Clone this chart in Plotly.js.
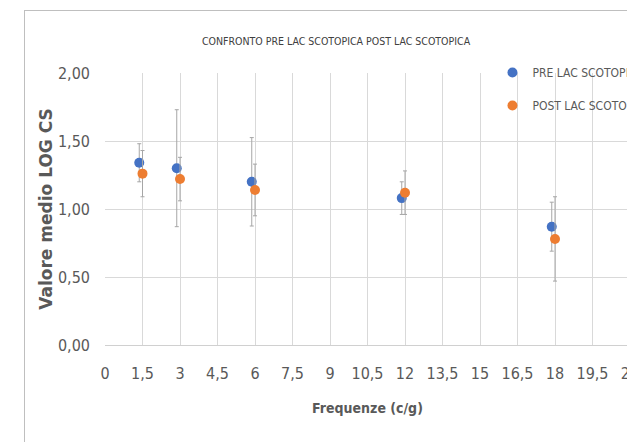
<!DOCTYPE html>
<html>
<head>
<meta charset="utf-8">
<script src="https://cdn.plot.ly/plotly-3.0.1.min.js"></script>
<style>
  html, body { margin: 0; padding: 0; background: #ffffff; overflow: hidden; width: 627px; height: 442px; }
  #frame { position: absolute; left: 24px; top: 10px; width: 720px; height: 440px; border-left: 1px solid #bfbfbf; border-top: 1px solid #bfbfbf; }
  #chart { position: absolute; left: 0; top: 0; width: 720px; height: 432px; }
</style>
</head>
<body>
<div id="frame"><div id="chart"></div></div>
<script>
const chartTitle = "CONFRONTO PRE LAC SCOTOPICA POST LAC SCOTOPICA";
const xTitle = "Frequenze (c/g)";
const yTitle = "Valore medio LOG CS";
const seriesNames = ["PRE LAC SCOTOPICA", "POST LAC SCOTOPICA"];

const preX = [1.37, 2.87, 5.87, 11.87, 17.87];
const preY = [1.34, 1.30, 1.20, 1.08, 0.87];
const preErr = [0.14, 0.43, 0.325, 0.12, 0.18];

const postX = [1.5, 3, 6, 12, 18];
const postY = [1.26, 1.22, 1.14, 1.12, 0.78];
const postErr = [0.17, 0.16, 0.19, 0.16, 0.31];

const xTicks = [0, 1.5, 3, 4.5, 6, 7.5, 9, 10.5, 12, 13.5, 15, 16.5, 18, 19.5, 21];
const yTicks = [0, 0.5, 1, 1.5, 2];

const NARROW = '"DejaVu Sans Condensed", "Liberation Sans", sans-serif';
const WIDE = '"DejaVu Sans", "Liberation Sans", sans-serif';
const TXT = '#595959';

const errStyle = (arr) => ({ type: 'data', array: arr, visible: true, color: '#a6a6a6', thickness: 1, width: 2 });

const traces = [
  { x: preX, y: preY, name: seriesNames[0], type: 'scatter', mode: 'markers',
    marker: { color: '#4472C4', size: 10 }, error_y: errStyle(preErr), legendgroup: 'a' },
  { x: postX, y: postY, name: seriesNames[1], type: 'scatter', mode: 'markers',
    marker: { color: '#ED7D31', size: 10 }, error_y: errStyle(postErr), legendgroup: 'b' }
];

const layout = {
  width: 720, height: 432,
  margin: { l: 80, r: 115, t: 62, b: 98 },
  paper_bgcolor: 'rgba(0,0,0,0)', plot_bgcolor: 'rgba(0,0,0,0)',
  separators: ',.',
  font: { family: NARROW, color: TXT, size: 16 },
  title: { text: chartTitle, font: { family: NARROW, size: 10.5, color: '#404040' },
           x: 311/720, xref: 'container', xanchor: 'center', y: 1 - 30/432, yanchor: 'middle' },
  showlegend: true,
  legend: { x: 0.738, xanchor: 'left', y: 1.055, yanchor: 'top', font: { family: NARROW, size: 12, color: TXT },
            bgcolor: 'rgba(0,0,0,0)', tracegroupgap: 14, traceorder: 'grouped', itemwidth: 30 },
  xaxis: {
    range: [0, 21], tickvals: xTicks, showgrid: true, gridcolor: '#d9d9d9', gridwidth: 1,
    zeroline: false, showline: true, linecolor: '#d0d0d0', linewidth: 1,
    ticks: '', ticklabelstandoff: 14, tickfont: { family: NARROW, size: 16, color: TXT },
    title: { text: xTitle, font: { family: NARROW, size: 14, color: TXT, weight: 'bold' }, standoff: 20 },
    automargin: false
  },
  yaxis: {
    range: [0, 2], tickvals: yTicks, tickformat: '.2f', showgrid: true, gridcolor: '#d9d9d9', gridwidth: 1,
    zeroline: false, showline: false, ticks: '', ticklabelstandoff: 14,
    tickfont: { family: NARROW, size: 16, color: TXT },
    title: { text: yTitle, font: { family: WIDE, size: 17, color: TXT, weight: 'bold' }, standoff: 1 },
    automargin: false
  }
};

Plotly.newPlot('chart', traces, layout, { displayModeBar: false, staticPlot: true });
</script>
</body>
</html>
